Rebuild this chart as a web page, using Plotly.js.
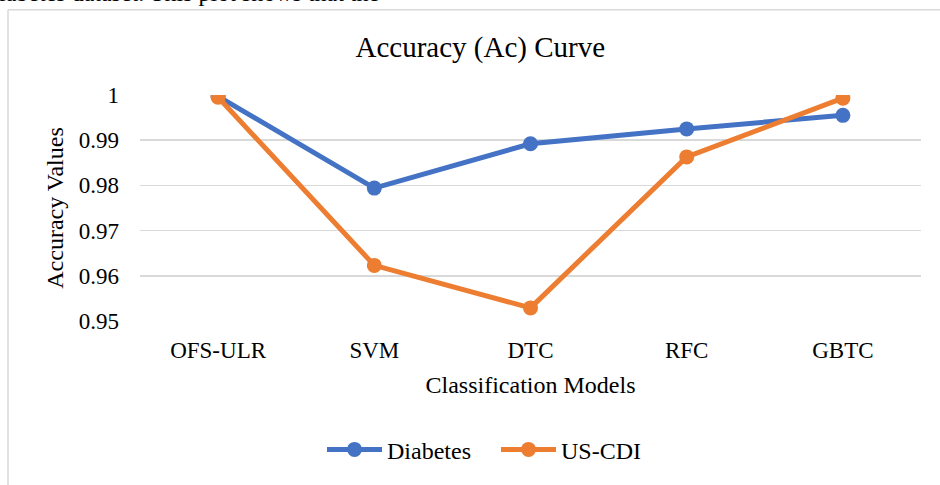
<!DOCTYPE html>
<html>
<head>
<meta charset="utf-8">
<script src="https://cdn.plot.ly/plotly-3.0.1.min.js"></script>
<style>html,body{margin:0;padding:0;background:#fff;}#chart{width:940px;height:485px;}</style>
</head>
<body>
<div id="chart"></div>
<script>
const models = ["OFS-ULR", "SVM", "DTC", "RFC", "GBTC"];
const diabetes = [0.9997, 0.9794, 0.9892, 0.9925, 0.9955];
const usCdi = [0.9995, 0.9623, 0.9529, 0.9863, 0.9993];
const yTicks = [0.95, 0.96, 0.97, 0.98, 0.99, 1];
const yTickText = ["0.95", "0.96", "0.97", "0.98", "0.99", "1"];

const FONT = "Liberation Serif";

const traces = [
  {x: models, y: diabetes, name: "Diabetes", type: "scatter", mode: "lines+markers",
   line: {color: "#4472C4", width: 5}, marker: {color: "#4472C4", size: 15}},
  {x: models, y: usCdi, name: "US-CDI", type: "scatter", mode: "lines+markers",
   line: {color: "#ED7D31", width: 5}, marker: {color: "#ED7D31", size: 15}}
];

const layout = {
  width: 940, height: 485,
  margin: {l: 140, r: 19, t: 95, b: 162},
  paper_bgcolor: "#fff", plot_bgcolor: "#fff",
  font: {family: FONT, size: 23, color: "#000"},
  title: {text: "Accuracy (Ac) Curve", font: {family: FONT, size: 29, color: "#000"},
          x: 0.511, xanchor: "center", y: 0.903, yanchor: "middle", xref: "container", yref: "container"},
  xaxis: {
    type: "category", range: [-0.5, 4.5], showgrid: false, zeroline: false, showline: false,
    ticks: "", ticklabelstandoff: 13, tickfont: {family: FONT, size: 23, color: "#000"},
    title: {text: "Classification Models", font: {family: FONT, size: 24, color: "#000"}, standoff: 14}
  },
  yaxis: {
    range: [0.95, 1.0], tickvals: yTicks, ticktext: yTickText,
    showgrid: true, gridcolor: "#D9D9D9", gridwidth: 1.5, zeroline: false, showline: false,
    ticks: "", ticklabelstandoff: 20, tickfont: {family: FONT, size: 23, color: "#000"},
    title: {text: "Accuracy Values", font: {family: FONT, size: 24, color: "#000"}, standoff: 8}
  },
  showlegend: true,
  legend: {orientation: "h", x: (322 - 140) / 781, xanchor: "left", y: -0.57, yanchor: "middle",
           font: {family: FONT, size: 24, color: "#000"}, itemwidth: 55, entrywidth: 104,
           entrywidthmode: "pixels", bgcolor: "rgba(0,0,0,0)"},
  shapes: [
    {type: "line", xref: "paper", yref: "paper", x0: (8 - 140) / 781, x1: (8 - 140) / 781,
     y0: (323 - 9) / 228, y1: (323 - 490) / 228, line: {color: "#D9D9D9", width: 1.5}},
    {type: "line", xref: "paper", yref: "paper", x0: (8 - 140) / 781, x1: (945 - 140) / 781,
     y0: (323 - 9) / 228, y1: (323 - 9) / 228, line: {color: "#D9D9D9", width: 1.5}}
  ],
  annotations: [
    {text: "iabetes dataset. This plot shows that the", xref: "paper", yref: "paper",
     x: (-3 - 140) / 781, xanchor: "left", y: (323 - 7) / 228, yanchor: "bottom",
     showarrow: false, font: {family: FONT, size: 24, color: "#000"}}
  ]
};

Plotly.newPlot("chart", traces, layout, {displayModeBar: false, staticPlot: true});
</script>
</body>
</html>
